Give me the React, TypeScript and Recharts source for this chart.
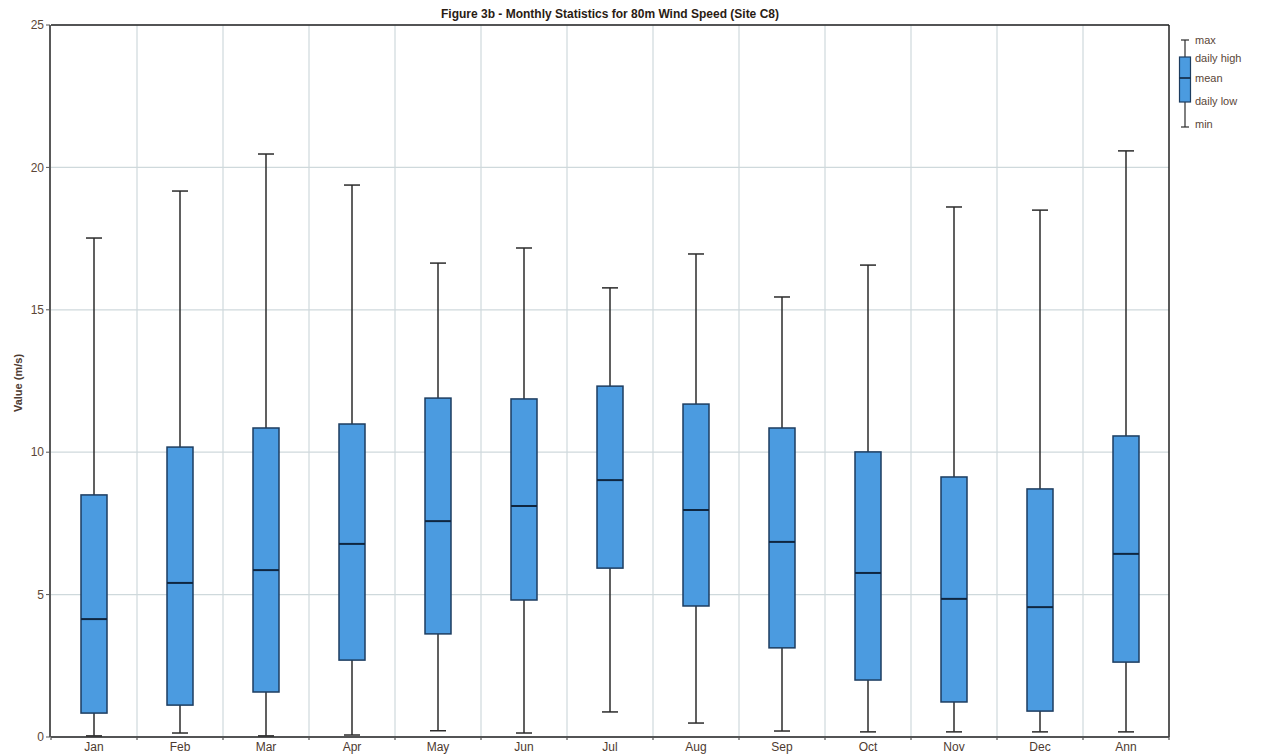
import React from 'react';
import { ComposedChart, Bar, XAxis, YAxis, CartesianGrid } from 'recharts';

const months = ['Jan', 'Feb', 'Mar', 'Apr', 'May', 'Jun', 'Jul', 'Aug', 'Sep', 'Oct', 'Nov', 'Dec', 'Ann'];
const maxVals = [17.52, 19.17, 20.47, 19.38, 16.64, 17.17, 15.77, 16.96, 15.45, 16.57, 18.61, 18.5, 20.58];
const highVals = [8.5, 10.18, 10.85, 10.99, 11.9, 11.87, 12.32, 11.69, 10.85, 10.01, 9.13, 8.71, 10.57];
const meanVals = [4.14, 5.41, 5.86, 6.78, 7.58, 8.11, 9.02, 7.97, 6.85, 5.76, 4.85, 4.56, 6.43];
const lowVals = [0.84, 1.12, 1.58, 2.7, 3.62, 4.81, 5.93, 4.6, 3.13, 2.0, 1.23, 0.91, 2.63];
const minVals = [0.04, 0.14, 0.04, 0.07, 0.22, 0.14, 0.88, 0.49, 0.21, 0.18, 0.18, 0.18, 0.18];

const yTicks = [0, 5, 10, 15, 20, 25];
const yMinorTicks = Array.from({ length: 26 }, (_, i) => i);

const data = months.map((m, i) => ({
  name: m,
  min: minVals[i],
  low: lowVals[i],
  mean: meanVals[i],
  high: highVals[i],
  max: maxVals[i],
  range: [minVals[i], maxVals[i]],
}));

const BOX_FILL = '#4b9be0';
const BOX_STROKE = '#1d3d60';
const WHISKER = '#2b2b2b';

const BoxShape = (props: any) => {
  const { x, y, width, height, payload } = props;
  if (!payload) return null;
  const top = Math.min(y, y + height);
  const h = Math.abs(height);
  const span = payload.max - payload.min;
  const py = (v: number) => top + (h * (payload.max - v)) / span;
  const cx = x + width / 2;
  const capHalf = 8;
  const yMax = py(payload.max);
  const yHigh = py(payload.high);
  const yMean = py(payload.mean);
  const yLow = py(payload.low);
  const yMin = py(payload.min);
  return (
    <g>
      <line x1={cx} x2={cx} y1={yMax} y2={yHigh} stroke={WHISKER} strokeWidth={1.5} />
      <line x1={cx} x2={cx} y1={yLow} y2={yMin} stroke={WHISKER} strokeWidth={1.5} />
      <line x1={cx - capHalf} x2={cx + capHalf} y1={yMax} y2={yMax} stroke={WHISKER} strokeWidth={1.5} />
      <line x1={cx - capHalf} x2={cx + capHalf} y1={yMin} y2={yMin} stroke={WHISKER} strokeWidth={1.5} />
      <rect x={x} y={yHigh} width={width} height={yLow - yHigh} fill={BOX_FILL} stroke={BOX_STROKE} strokeWidth={1.5} />
      <line x1={x} x2={x + width} y1={yMean} y2={yMean} stroke="#0f2640" strokeWidth={2} />
    </g>
  );
};

const CatTick = (props: any) => {
  const { x, y, payload, index, visibleTicksCount } = props;
  const half = payload && payload.offset ? payload.offset : 43;
  const isLast = index === (visibleTicksCount ?? months.length) - 1;
  return (
    <g>
      <line x1={x - half} x2={x - half} y1={y - 3} y2={y + 1} stroke="#555" strokeWidth={1.2} />
      {isLast && <line x1={x + half} x2={x + half} y1={y - 3} y2={y + 1} stroke="#555" strokeWidth={1.2} />}
      <text x={x} y={y + 3} dy="0.71em" textAnchor="middle" fontSize={12} fill="#4d3a30">
        {payload.value}
      </text>
    </g>
  );
};

const Legend = () => (
  <svg width={90} height={110} style={{ position: 'absolute', left: 1168, top: 25 }}>
    <line x1={9} x2={9} y1={7} y2={94} stroke={WHISKER} strokeWidth={1.2} />
    <line x1={5} x2={13} y1={7} y2={7} stroke={WHISKER} strokeWidth={1.2} />
    <line x1={5} x2={13} y1={94} y2={94} stroke={WHISKER} strokeWidth={1.2} />
    <rect x={3.5} y={24} width={11} height={45} fill={BOX_FILL} stroke={BOX_STROKE} strokeWidth={1.2} />
    <line x1={3.5} x2={14.5} y1={45} y2={45} stroke="#0f2640" strokeWidth={1.6} />
    <g fontFamily="Liberation Sans, Arial, sans-serif" fontSize={11} fill="#5a4638">
      <text x={19} y={11}>max</text>
      <text x={19} y={29}>daily high</text>
      <text x={19} y={49}>mean</text>
      <text x={19} y={72}>daily low</text>
      <text x={19} y={95}>min</text>
    </g>
  </svg>
);

const verticalGen = ({ offset }: any) =>
  months.slice(1).map((_, i) => offset.left + (offset.width * (i + 1)) / months.length);

export default function App() {
  return (
    <div style={{ position: 'relative', width: 1254, height: 746, fontFamily: 'Liberation Sans, Arial, sans-serif', background: '#fff' }}>
      <ComposedChart
        width={1254}
        height={746}
        data={data}
        margin={{ top: 16, right: 92, bottom: 16, left: 41 }}
      >
        <CartesianGrid
          yAxisId="v"
          stroke="#cfd9dc"
          strokeWidth={1.2}
          verticalCoordinatesGenerator={verticalGen}
        />
        <XAxis
          xAxisId="cat"
          dataKey="name"
          height={1}
          tickLine={false}
          axisLine={{ stroke: '#222', strokeWidth: 1.5 }}
          tickSize={0}
          interval={0}
          tick={(p: any) => <CatTick {...p} />}
        />
        <XAxis
          xAxisId="t"
          orientation="top"
          dataKey="name"
          height={1}
          tick={false}
          tickLine={false}
          axisLine={{ stroke: '#222', strokeWidth: 1.5 }}
        />
        <YAxis
          yAxisId="v"
          domain={[0, 25]}
          ticks={yTicks}
          width={1}
          tickSize={4}
          tickMargin={2}
          tickLine={{ stroke: '#555' }}
          axisLine={{ stroke: '#222', strokeWidth: 1.5 }}
          tick={{ fontSize: 12, fill: '#5b4636' }}
        />
        <YAxis
          yAxisId="minor"
          domain={[0, 25]}
          ticks={yMinorTicks}
          width={1}
          tick={() => <g />}
          tickSize={4}
          tickLine={{ stroke: '#777' }}
          axisLine={false}
        />
        <YAxis
          yAxisId="r"
          orientation="right"
          domain={[0, 25]}
          width={1}
          tick={false}
          tickLine={false}
          axisLine={{ stroke: '#222', strokeWidth: 1.5 }}
        />
        <Bar
          xAxisId="cat"
          yAxisId="v"
          dataKey="range"
          barSize={26}
          shape={(p: any) => <BoxShape {...p} />}
          isAnimationActive={false}
        />
      </ComposedChart>
      <div
        style={{
          position: 'absolute',
          left: 43,
          width: 1118,
          top: 0,
          textAlign: 'center',
          fontWeight: 'bold',
          fontSize: 12,
          color: '#2a1c14',
          lineHeight: '12px',
        }}
      >
        Figure 3b - Monthly Statistics for 80m Wind Speed (Site C8)
      </div>
      <div
        style={{
          position: 'absolute',
          left: 10,
          top: 375,
          transform: 'translate(-50%, -50%) rotate(-90deg)',
          fontWeight: 'bold',
          fontSize: 11,
          color: '#4d3a30',
          whiteSpace: 'nowrap',
        }}
      >
        Value (m/s)
      </div>
      <Legend />
    </div>
  );
}
